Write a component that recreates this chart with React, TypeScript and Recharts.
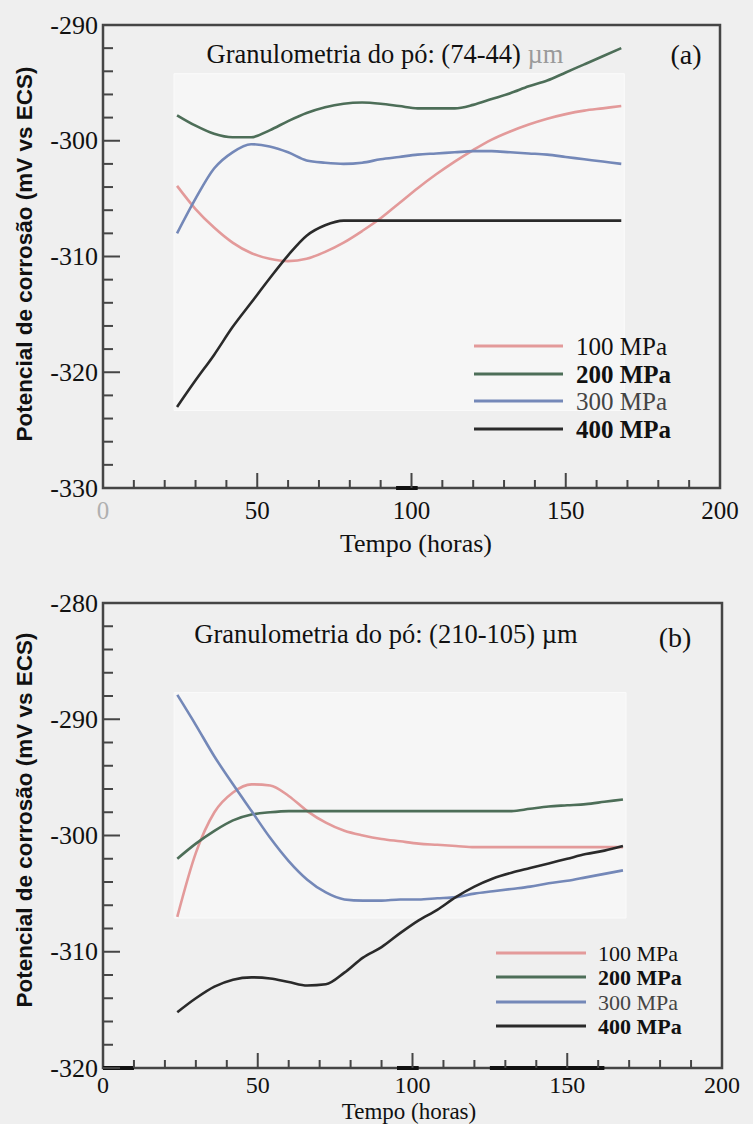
import { LineChart, Line, XAxis, YAxis, ReferenceArea, ReferenceLine } from 'recharts'

// --- Data ---

const hours = [24, 30, 36, 42, 48, 54, 60, 66, 72, 78, 84, 90, 96, 102, 108, 114, 120, 126, 132, 138, 144, 150, 156, 162, 168]

// panel (a): (74-44) µm
const a100 = [-303.9, -305.9, -307.5, -308.8, -309.7, -310.2, -310.4, -310.2, -309.6, -308.8, -307.8, -306.7, -305.4, -304.1, -302.9, -301.8, -300.8, -299.9, -299.2, -298.6, -298.1, -297.7, -297.4, -297.2, -297.0]
const a200 = [-297.8, -298.7, -299.4, -299.7, -299.7, -299.1, -298.3, -297.6, -297.1, -296.8, -296.7, -296.8, -297.0, -297.2, -297.2, -297.2, -296.9, -296.4, -295.9, -295.3, -294.8, -294.1, -293.4, -292.7, -292.0]
const a300 = [-308.0, -305.0, -302.4, -301.0, -300.3, -300.5, -301.0, -301.7, -301.9, -302.0, -301.9, -301.6, -301.4, -301.2, -301.1, -301.0, -300.9, -300.9, -301.0, -301.1, -301.2, -301.4, -301.6, -301.8, -302.0]
const a400 = [-323.0, -320.7, -318.5, -316.1, -314.0, -311.9, -309.9, -308.2, -307.3, -306.9, -306.9, -306.9, -306.9, -306.9, -306.9, -306.9, -306.9, -306.9, -306.9, -306.9, -306.9, -306.9, -306.9, -306.9, -306.9]

// panel (b): (210-105) µm
const b100 = [-307.0, -301.5, -298.0, -296.3, -295.6, -295.7, -296.6, -297.9, -298.9, -299.6, -300.0, -300.3, -300.5, -300.7, -300.8, -300.9, -301.0, -301.0, -301.0, -301.0, -301.0, -301.0, -301.0, -301.0, -301.0]
const b200 = [-302.0, -300.7, -299.6, -298.7, -298.2, -298.0, -297.9, -297.9, -297.9, -297.9, -297.9, -297.9, -297.9, -297.9, -297.9, -297.9, -297.9, -297.9, -297.9, -297.7, -297.5, -297.4, -297.3, -297.1, -296.9]
const b300 = [-287.9, -290.5, -293.2, -295.6, -297.9, -300.2, -302.2, -303.8, -304.9, -305.5, -305.6, -305.6, -305.5, -305.5, -305.4, -305.3, -305.0, -304.8, -304.6, -304.4, -304.1, -303.9, -303.6, -303.3, -303.0]
const b400 = [-315.2, -314.0, -313.0, -312.4, -312.2, -312.3, -312.6, -312.9, -312.8, -311.8, -310.5, -309.6, -308.4, -307.3, -306.4, -305.3, -304.4, -303.7, -303.2, -302.8, -302.4, -302.0, -301.6, -301.3, -300.9]

const seriesNames = ['100 MPa', '200 MPa', '300 MPa', '400 MPa']
const seriesKeys = ['p100', 'p200', 'p300', 'p400']
const seriesColors = ['#e39a9a', '#4d6e58', '#7488b8', '#2a2a2a']
const legendBold = [false, true, false, true]

const xLabels = [0, 50, 100, 150, 200]
const yLabelsA = [-330, -320, -310, -300, -290]
const yLabelsB = [-320, -310, -300, -290, -280]

const SERIF = '"Liberation Serif", "Times New Roman", serif'
const SANS = '"Liberation Sans", Arial, sans-serif'
const AXIS = '#454545'

// minor ticks: every 10 h on x, every 2 mV on y
const minorTicks = (from: number, to: number, step: number) => {
  const out: number[] = []
  for (let v = from; v <= to + 1e-9; v += step) out.push(Math.round(v))
  return out
}

const buildRows = (cols: number[][]) =>
  hours.map((h, i) => ({ h, p100: cols[0][i], p200: cols[1][i], p300: cols[2][i], p400: cols[3][i] }))

// --- Ticks ---

const XTick = ({ x, y, payload, zeroColor, labelGap, labelSize }: any) => {
  const v = payload.value
  const major = v % 50 === 0
  const len = major ? 15 : 8
  return (
    <g>
      {v > 0 && v < 200 && (
        <line x1={x} x2={x} y1={y} y2={y - len} stroke={AXIS} strokeWidth={2} />
      )}
      {xLabels.includes(v) && (
        <text
          x={x}
          y={y + labelGap}
          textAnchor="middle"
          dominantBaseline="central"
          fontFamily={SERIF}
          fontSize={labelSize}
          fill={v === 0 ? zeroColor : '#111'}
        >
          {v}
        </text>
      )}
    </g>
  )
}

const YTick = ({ x, y, payload, labels }: any) => {
  const v = payload.value
  const major = labels.includes(v)
  const len = major ? 17 : 10
  return (
    <g>
      <line x1={x} x2={x + len} y1={y} y2={y} stroke={AXIS} strokeWidth={2} />
      {major && (
        <text
          x={x - 5}
          y={y}
          textAnchor="end"
          dominantBaseline="central"
          fontFamily={SERIF}
          fontSize={26}
          fill="#111"
        >
          {v}
        </text>
      )}
    </g>
  )
}

// --- Panel ---

type PanelProps = {
  top: number
  height: number
  margin: { top: number; right: number; left: number; bottom: number }
  xAxisHeight: number
  yDomain: [number, number]
  yLabels: number[]
  cols: number[][]
  inner: { x1: number; x2: number; y1: number; y2: number }
  boldSegments: [number, number][]
  zeroColor: string
  xLabelGap: number
  xLabelSize: number
  title: string
  titleUnitColor: string
  titlePos: [number, number]
  tag: string
  tagPos: [number, number]
  legendRows: number[]
  legendLine: [number, number]
  legendText: number
  legendSize: number
  yTitleY: number
  xTitlePos: [number, number]
  xTitleSize: number
}

const Panel = (p: PanelProps) => {
  const data = buildRows(p.cols)
  const [yMin, yMax] = p.yDomain
  return (
    <div style={{ position: 'absolute', left: 0, top: p.top, width: 753, height: p.height }}>
      <LineChart width={753} height={p.height} data={data} margin={p.margin}>
        <XAxis
          dataKey="h"
          type="number"
          domain={[0, 200]}
          ticks={minorTicks(0, 200, 10)}
          interval={0}
          height={p.xAxisHeight}
          axisLine={false}
          tickLine={false}
          tickSize={0}
          tickMargin={0}
          tick={(t: any) => (
            <XTick {...t} zeroColor={p.zeroColor} labelGap={p.xLabelGap} labelSize={p.xLabelSize} />
          )}
        />
        <YAxis
          type="number"
          domain={p.yDomain}
          ticks={minorTicks(yMin, yMax, 2)}
          interval={0}
          width={103}
          axisLine={false}
          tickLine={false}
          tickSize={0}
          tickMargin={0}
          allowDataOverflow
          tick={(t: any) => <YTick {...t} labels={p.yLabels} />}
        />
        <ReferenceArea
          x1={p.inner.x1}
          x2={p.inner.x2}
          y1={p.inner.y1}
          y2={p.inner.y2}
          fill="#f6f6f6"
          fillOpacity={1}
          stroke="#fafafa"
          strokeWidth={1}
        />
        {seriesKeys.map((k, i) => (
          <Line
            key={k}
            dataKey={k}
            type="monotone"
            stroke={seriesColors[i]}
            strokeWidth={2.6}
            dot={false}
            isAnimationActive={false}
          />
        ))}
        <ReferenceArea
          x1={0}
          x2={200}
          y1={yMin}
          y2={yMax}
          fill="none"
          stroke={AXIS}
          strokeWidth={2.5}
        />
        {p.boldSegments.map(([s, e], i) => (
          <ReferenceLine
            key={i}
            segment={[{ x: s, y: yMin }, { x: e, y: yMin }]}
            stroke="#111"
            strokeWidth={4}
          />
        ))}
      </LineChart>

      <svg
        width={753}
        height={p.height}
        style={{ position: 'absolute', left: 0, top: 0, pointerEvents: 'none' }}
      >
        <text
          x={p.titlePos[0]}
          y={p.titlePos[1]}
          textAnchor="middle"
          dominantBaseline="central"
          fontFamily={SERIF}
          fontSize={26.5}
          fill="#111"
        >
          {p.title}
          <tspan fill={p.titleUnitColor}> µm</tspan>
        </text>
        <text
          x={p.tagPos[0]}
          y={p.tagPos[1]}
          textAnchor="middle"
          dominantBaseline="central"
          fontFamily={SERIF}
          fontSize={28}
          fill="#111"
        >
          {p.tag}
        </text>
        {seriesNames.map((name, i) => (
          <g key={name}>
            <line
              x1={p.legendLine[0]}
              x2={p.legendLine[1]}
              y1={p.legendRows[i]}
              y2={p.legendRows[i]}
              stroke={seriesColors[i]}
              strokeWidth={3}
            />
            <text
              x={p.legendText}
              y={p.legendRows[i]}
              dominantBaseline="central"
              fontFamily={SERIF}
              fontSize={p.legendSize}
              fontWeight={legendBold[i] ? 'bold' : 'normal'}
              fill={i === 2 ? '#444' : '#111'}
            >
              {name}
            </text>
          </g>
        ))}
        <text
          transform={`translate(24, ${p.yTitleY}) rotate(-90)`}
          textAnchor="middle"
          dominantBaseline="central"
          fontFamily={SANS}
          fontWeight="bold"
          fontSize={22.5}
          fill="#111"
        >
          Potencial de corrosão (mV vs ECS)
        </text>
        <text
          x={p.xTitlePos[0]}
          y={p.xTitlePos[1]}
          textAnchor="middle"
          dominantBaseline="central"
          fontFamily={SERIF}
          fontSize={p.xTitleSize}
          fill="#111"
        >
          Tempo (horas)
        </text>
      </svg>
    </div>
  )
}

export default function App() {
  return (
    <div
      style={{
        position: 'absolute',
        left: 0,
        top: 0,
        width: 753,
        height: 1124,
        background: '#efefef',
        overflow: 'hidden',
      }}
    >
      <Panel
        top={0}
        height={560}
        margin={{ top: 25, right: 33, left: 0, bottom: 0 }}
        xAxisHeight={72}
        yDomain={[-330, -290]}
        yLabels={yLabelsA}
        cols={[a100, a200, a300, a400]}
        inner={{ x1: 23, x2: 169, y1: -323.3, y2: -294.2 }}
        boldSegments={[[95, 102]]}
        zeroColor="#b0b0b0"
        xLabelGap={22}
        xLabelSize={25}
        title="Granulometria do pó: (74-44)"
        titleUnitColor="#9a9a9a"
        titlePos={[385, 54]}
        tag="(a)"
        tagPos={[686, 54]}
        legendRows={[346, 374, 401, 429]}
        legendLine={[474, 563]}
        legendText={576}
        legendSize={25}
        yTitleY={254}
        xTitlePos={[416, 543]}
        xTitleSize={26}
      />
      <Panel
        top={560}
        height={564}
        margin={{ top: 43, right: 31, left: 0, bottom: 0 }}
        xAxisHeight={56}
        yDomain={[-320, -280]}
        yLabels={yLabelsB}
        cols={[b100, b200, b300, b400]}
        inner={{ x1: 23, x2: 169, y1: -307.1, y2: -287.7 }}
        boldSegments={[[0, 10], [95, 102], [125, 162]]}
        zeroColor="#111"
        xLabelGap={17}
        xLabelSize={24}
        title="Granulometria do pó: (210-105)"
        titleUnitColor="#111"
        titlePos={[386, 74]}
        tag="(b)"
        tagPos={[675, 77]}
        legendRows={[393, 417, 442, 466]}
        legendLine={[496, 586]}
        legendText={598}
        legendSize={22}
        yTitleY={260}
        xTitlePos={[409, 551]}
        xTitleSize={23}
      />
    </div>
  )
}
